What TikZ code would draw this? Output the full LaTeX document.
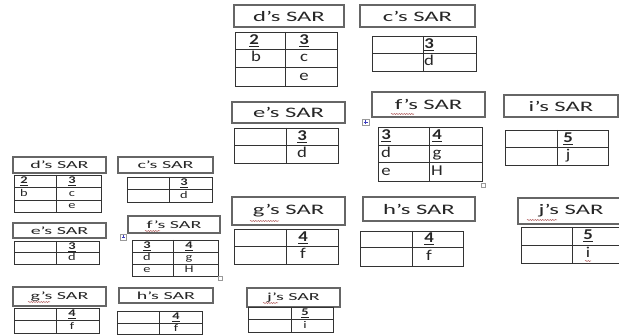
\documentclass[tikz,border=0pt]{standalone}
\usepackage{fontspec}
\usepackage{graphicx}
\setmainfont{Carlito}
\usetikzlibrary{decorations.pathmorphing}
\newcommand\BH[1]{\scalebox{1.7}[1]{\fontsize{14.5}{14.5}\selectfont #1}}
\newcommand\SH[1]{\scalebox{1.85}[1]{\fontsize{10.8}{10.8}\selectfont #1}}
\newcommand\BT[1]{\scalebox{1.25}[1]{\fontsize{15}{15}\selectfont #1}}
\newcommand\ST[1]{\scalebox{1.4}[1]{\fontsize{10.3}{10.3}\selectfont #1}}
\newcommand\UD[1]{\underline{\textbf{#1}}}
\newcommand\hdrnode[6]{\node[hdr, minimum width={(#4-#3)*1pt}, minimum height={(#6-#5)*1pt}] (#1) at ({(#3+#4)/2},{(#5+#6)/2}) {#2};}
\newcommand\gridtwo[6]{\draw[tab] (#1,#4) rectangle (#3,#6); \draw[tab] (#2,#4) -- (#2,#6); \draw[tab] (#1,#5) -- (#3,#5);}
\newcommand\gridthree[7]{\draw[tab] (#1,#4) rectangle (#3,#7); \draw[tab] (#2,#4) -- (#2,#7); \draw[tab] (#1,#5) -- (#3,#5); \draw[tab] (#1,#6) -- (#3,#6);}
\begin{document}
\begin{tikzpicture}[x=1pt,y=-1pt,
  hdr/.style={draw=black!60, line width=1.1pt, inner sep=0pt, text=black!85},
  tab/.style={draw=black!80, line width=0.9pt},
  bc/.style={inner sep=0pt, text=black!85, text height=10pt, text depth=2pt},
  sc/.style={inner sep=0pt, text=black!85, text height=7pt, text depth=1.5pt},
  spell/.style={draw=red!35!gray, line width=0.5pt, decorate, decoration={snake, amplitude=0.5pt, segment length=2.5pt}},
  handle/.style={draw=black!40, fill=white, line width=0.4pt}
]
\useasboundingbox[fill=white] (0,0) rectangle (619,336);

% ---------- large version ----------
\hdrnode{hd}{\BH{d’s SAR}}{234}{344}{5}{27}
\gridthree{235}{285}{337}{32}{49}{67}{86}
\node[bc] (td1) at (254,40.5) {\BT{\UD{2}}};
\node[bc] (td2) at (304,40.5) {\BT{\UD{3}}};
\node[bc] (td3) at (256,58) {\BT{b}};
\node[bc] (td4) at (304,58) {\BT{c}};
\node[bc] (td5) at (304,76.5) {\BT{e}};

\hdrnode{hc}{\BH{c’s SAR}}{360}{475}{5}{27}
\gridtwo{372}{423}{476}{36}{53}{71}
\node[bc] (tc1) at (429,44.5) {\BT{\UD{3}}};
\node[bc] (tc2) at (429,62) {\BT{d}};

\hdrnode{he}{\BH{e’s SAR}}{232}{345}{102}{123}
\gridtwo{234}{286}{338}{128}{145}{163}
\node[bc] (te1) at (302,136.5) {\BT{\UD{3}}};
\node[bc] (te2) at (302,154) {\BT{d}};

\hdrnode{hf}{\BH{f’s SAR}}{372}{485}{92}{117}
\gridthree{378}{429}{482}{127}{145}{162}{181}
\node[bc] (tf1) at (386,136) {\BT{\UD{3}}};
\node[bc] (tf2) at (437,136) {\BT{\UD{4}}};
\node[bc] (tf3) at (386,153.5) {\BT{d}};
\node[bc] (tf4) at (437,153.5) {\BT{g}};
\node[bc] (tf5) at (386,171.5) {\BT{e}};
\node[bc] (tf6) at (437,171.5) {\BT{H}};
\draw[spell] (391,114) -- (414,114);
\draw[handle] (362,119) rectangle (369,125);
\draw[draw=blue!50!gray, line width=0.4pt] (363.5,122) -- (367.5,122) (365.5,120) -- (365.5,124);
\draw[handle] (481,183) rectangle (485,187);

\hdrnode{hi}{\BH{i’s SAR}}{504}{618}{95}{117}
\gridtwo{505}{557}{608}{130}{147}{165}
\node[bc] (ti1) at (568,138.5) {\BT{\UD{5}}};
\node[bc] (ti2) at (568,156) {\BT{j}};

\hdrnode{hg}{\BH{g’s SAR}}{232}{345}{197}{225}
\gridtwo{234}{286}{338}{229}{246}{264}
\node[bc] (tg1) at (303,237.5) {\BT{\UD{4}}};
\node[bc] (tg2) at (303,255) {\BT{f}};
\draw[spell] (250,221) -- (279,221);

\hdrnode{hh}{\BH{h’s SAR}}{363}{475}{197}{221}
\gridtwo{360}{412}{463}{231}{247}{266}
\node[bc] (th1) at (429,239) {\BT{\UD{4}}};
\node[bc] (th2) at (429,256.5) {\BT{f}};

\hdrnode{hj}{\BH{j’s SAR}}{518}{624}{198}{224}
\gridtwo{521}{572}{624}{227}{245}{263}
\node[bc] (tj1) at (588,236) {\BT{\UD{5}}};
\node[bc] (tj2) at (588,254) {\BT{i}};
\draw[spell] (527,220) -- (557,220);
\draw[spell] (585,261) -- (591,261);

% ---------- small version ----------
\hdrnode{sd}{\SH{d’s SAR}}{13}{106}{157}{173}
\gridthree{14}{56}{101}{175}{187}{200}{212}
\node[sc] (sd1) at (24,181) {\ST{\UD{2}}};
\node[sc] (sd2) at (72,181) {\ST{\UD{3}}};
\node[sc] (sd3) at (24,193.5) {\ST{b}};
\node[sc] (sd4) at (72,193.5) {\ST{c}};
\node[sc] (sd5) at (72,206) {\ST{e}};

\hdrnode{sc}{\SH{c’s SAR}}{118}{213}{157}{173}
\gridtwo{127}{169}{212}{177}{189}{202}
\node[sc] (sc1) at (184,183) {\ST{\UD{3}}};
\node[sc] (sc2) at (184,195.5) {\ST{d}};

\hdrnode{se}{\SH{e’s SAR}}{13}{106}{223}{238}
\gridtwo{14}{56}{99}{241}{252}{264}
\node[sc] (se1) at (72,246.5) {\ST{\UD{3}}};
\node[sc] (se2) at (72,258) {\ST{d}};

\hdrnode{sf}{\SH{f’s SAR}}{128}{220}{216}{233}
\gridthree{132}{173}{218}{240}{252}{264}{276}
\node[sc] (sf1) at (147,246) {\ST{\UD{3}}};
\node[sc] (sf2) at (189,246) {\ST{\UD{4}}};
\node[sc] (sf3) at (147,258) {\ST{d}};
\node[sc] (sf4) at (189,258) {\ST{g}};
\node[sc] (sf5) at (147,270) {\ST{e}};
\node[sc] (sf6) at (189,270) {\ST{H}};
\draw[spell] (145,231) -- (160,231);
\draw[handle] (120,234) rectangle (126,240);
\draw[draw=blue!50!gray, line width=0.4pt] (121.5,237) -- (124.5,237) (123,235.5) -- (123,238.5);
\draw[handle] (218,276) rectangle (222,280);

\hdrnode{sg}{\SH{g’s SAR}}{13}{106}{287}{306}
\gridtwo{14}{56}{99}{308}{320}{333}
\node[sc] (sg1) at (72,314) {\ST{\UD{4}}};
\node[sc] (sg2) at (72,326.5) {\ST{f}};
\draw[spell] (28,302) -- (50,302);

\hdrnode{sh}{\SH{h’s SAR}}{119}{213}{288}{303}
\gridtwo{117}{159}{202}{311}{323}{334}
\node[sc] (sh1) at (176,317) {\ST{\UD{4}}};
\node[sc] (sh2) at (176,328.5) {\ST{f}};

\hdrnode{sj}{\SH{j’s SAR}}{247}{340}{288}{307}
\gridtwo{248}{291}{333}{307}{319}{332}
\node[sc] (sj1) at (305,313) {\ST{\UD{5}}};
\node[sc] (sj2) at (305,325.5) {\ST{i}};
\draw[spell] (263,303) -- (278,303);
\end{tikzpicture}
\end{document}
